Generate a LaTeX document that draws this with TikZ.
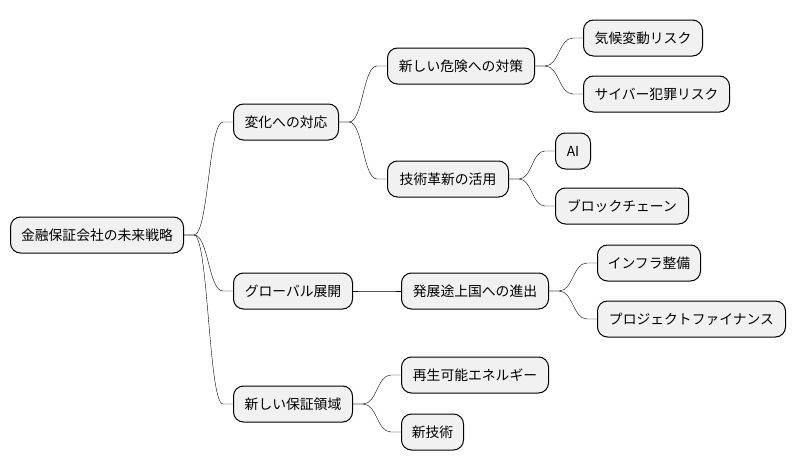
\documentclass[tikz,border=0pt]{standalone}
\usepackage{fontspec}
\setmainfont{Noto Sans CJK JP}
\usetikzlibrary{calc}
\definecolor{boxfill}{HTML}{F1F1F1}
\tikzset{
  mmbox/.style={draw=black, line width=1pt, fill=boxfill, rounded corners=10pt,
    minimum height=36pt, inner sep=0pt, anchor=west,
    font=\fontsize{13.8}{16}\selectfont},
  mmlink/.style={line width=0.9pt, to path={let \p1=(\tikztostart), \p2=(\tikztotarget) in
    (\p1) -- (\x1+10pt,\y1) .. controls ({(\x1+\x2)/2},\y1) and ({(\x1+\x2)/2},\y2) .. (\x2-10pt,\y2) -- (\p2)}}
}
\begin{document}
\begin{tikzpicture}[x=1pt,y=-1pt]
\fill[white] (0,0) rectangle (796,471);
\useasboundingbox (0,0) rectangle (796,471);
\node[mmbox, minimum width=173pt] (root) at (10,235) {金融保証会社の未来戦略};
\node[mmbox, minimum width=105pt] (henka) at (233,122) {変化への対応};
\node[mmbox, minimum width=147pt] (kiken) at (387,66) {新しい危険への対策};
\node[mmbox, minimum width=119pt] (kikou) at (583,38) {気候変動リスク};
\node[mmbox, minimum width=146pt] (cyber) at (583,94) {サイバー犯罪リスク};
\node[mmbox, minimum width=121pt] (gijutsu) at (387,179) {技術革新の活用};
\node[mmbox, minimum width=35pt] (ai) at (555,151) {AI};
\node[mmbox, minimum width=133pt] (block) at (555,206) {ブロックチェーン};
\node[mmbox, minimum width=119pt] (global) at (233,291) {グローバル展開};
\node[mmbox, minimum width=147pt] (hatten) at (401,291) {発展途上国への進出};
\node[mmbox, minimum width=103pt] (infra) at (597,263) {インフラ整備};
\node[mmbox, minimum width=188pt] (project) at (597,319) {プロジェクトファイナンス};
\node[mmbox, minimum width=119pt] (hosho) at (233,404) {新しい保証領域};
\node[mmbox, minimum width=147pt] (saisei) at (401,375) {再生可能エネルギー};
\node[mmbox, minimum width=62pt] (shingi) at (401,432) {新技術};

\draw (root.east) to[mmlink] (henka.west);
\draw (root.east) to[mmlink] (global.west);
\draw (root.east) to[mmlink] (hosho.west);
\draw (henka.east) to[mmlink] (kiken.west);
\draw (henka.east) to[mmlink] (gijutsu.west);
\draw (kiken.east) to[mmlink] (kikou.west);
\draw (kiken.east) to[mmlink] (cyber.west);
\draw (gijutsu.east) to[mmlink] (ai.west);
\draw (gijutsu.east) to[mmlink] (block.west);
\draw (global.east) to[mmlink] (hatten.west);
\draw (hatten.east) to[mmlink] (infra.west);
\draw (hatten.east) to[mmlink] (project.west);
\draw (hosho.east) to[mmlink] (saisei.west);
\draw (hosho.east) to[mmlink] (shingi.west);
\end{tikzpicture}
\end{document}
